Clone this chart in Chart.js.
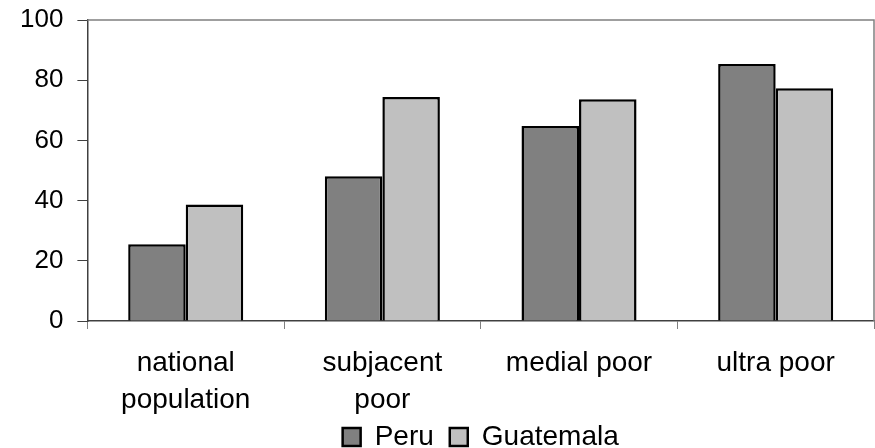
<!DOCTYPE html>
<html>
<head>
<meta charset="utf-8">
<script src="https://cdn.jsdelivr.net/npm/chart.js@4"></script>
<style>
  body { margin: 0; background: #fff; }
  #box { width: 875px; height: 448px; }
</style>
</head>
<body>
<div id="box"><canvas id="povertyChart"></canvas></div>
<script>
// categories along the bottom
const groups = [["national", "population"], ["subjacent", "poor"], "medial poor", "ultra poor"];
// values
const peru = [25.5, 48.1, 64.8, 85.4];
const guatemala = [38.7, 74.4, 73.7, 77.3];
const yTicks = [0, 20, 40, 60, 80, 100];

// gray frame on top and right of the plot, like the old excel charts
const frame = {
  id: "frame",
  beforeDatasetsDraw(chart) {
    const a = chart.chartArea;
    const ctx = chart.ctx;
    ctx.save();
    ctx.strokeStyle = "#808080";
    ctx.lineWidth = 1.5;
    ctx.beginPath();
    ctx.moveTo(a.left, a.top);
    ctx.lineTo(a.right, a.top);
    ctx.lineTo(a.right, a.bottom);
    ctx.stroke();
    ctx.restore();
  }
};

// legend padding is used both ways, so pull the legend up a bit after layout
const liftLegend = {
  id: "liftLegend",
  afterLayout(chart) {
    if (chart.legend) {
      chart.legend.top -= 10;
      chart.legend.bottom -= 10;
    }
  }
};

Chart.defaults.font.family = "'Liberation Sans', Arial, sans-serif";
Chart.defaults.color = "#000";

new Chart("povertyChart", {
  type: "bar",
  data: {
    labels: groups,
    datasets: [
      { label: "Peru", data: peru, backgroundColor: "#808080", borderColor: "#000", borderWidth: 2.5 },
      { label: "Guatemala", data: guatemala, backgroundColor: "#c0c0c0", borderColor: "#000", borderWidth: 2.5 }
    ]
  },
  options: {
    responsive: true,
    maintainAspectRatio: false,
    animation: false,
    categoryPercentage: 0.585,
    barPercentage: 1,
    layout: { padding: { left: 6, right: 1, top: 20, bottom: -23 } },
    scales: {
      x: {
        // the labels made chart.js push the plot inwards, undo that
        // and fix the axis block height so the plot gets its full height
        afterFit(scale) { scale.paddingLeft = 0; scale.paddingRight = 0; scale.height = 96; },
        grid: { drawOnChartArea: false, tickLength: 8, color: "#808080", offset: true },
        border: { color: "#404040", width: 1.5 },
        ticks: { font: { size: 28, lineHeight: 1.32 }, padding: 16, maxRotation: 0, autoSkip: false }
      },
      y: {
        min: 0,
        max: 100,
        afterBuildTicks(axis) { axis.ticks = yTicks.map(v => ({ value: v })); },
        afterFit(scale) { scale.paddingTop = 0; scale.paddingBottom = 0; },
        grid: { drawOnChartArea: false, tickLength: 10, color: "#404040" },
        border: { color: "#404040", width: 1.5 },
        ticks: { font: { size: 26 }, padding: 14 }
      }
    },
    plugins: {
      legend: {
        position: "bottom",
        fullSize: false,
        labels: { boxWidth: 18, boxHeight: 18, font: { size: 28 }, padding: 16, color: "#000" }
      },
      tooltip: { enabled: false }
    }
  },
  plugins: [frame, liftLegend]
});
</script>
</body>
</html>
